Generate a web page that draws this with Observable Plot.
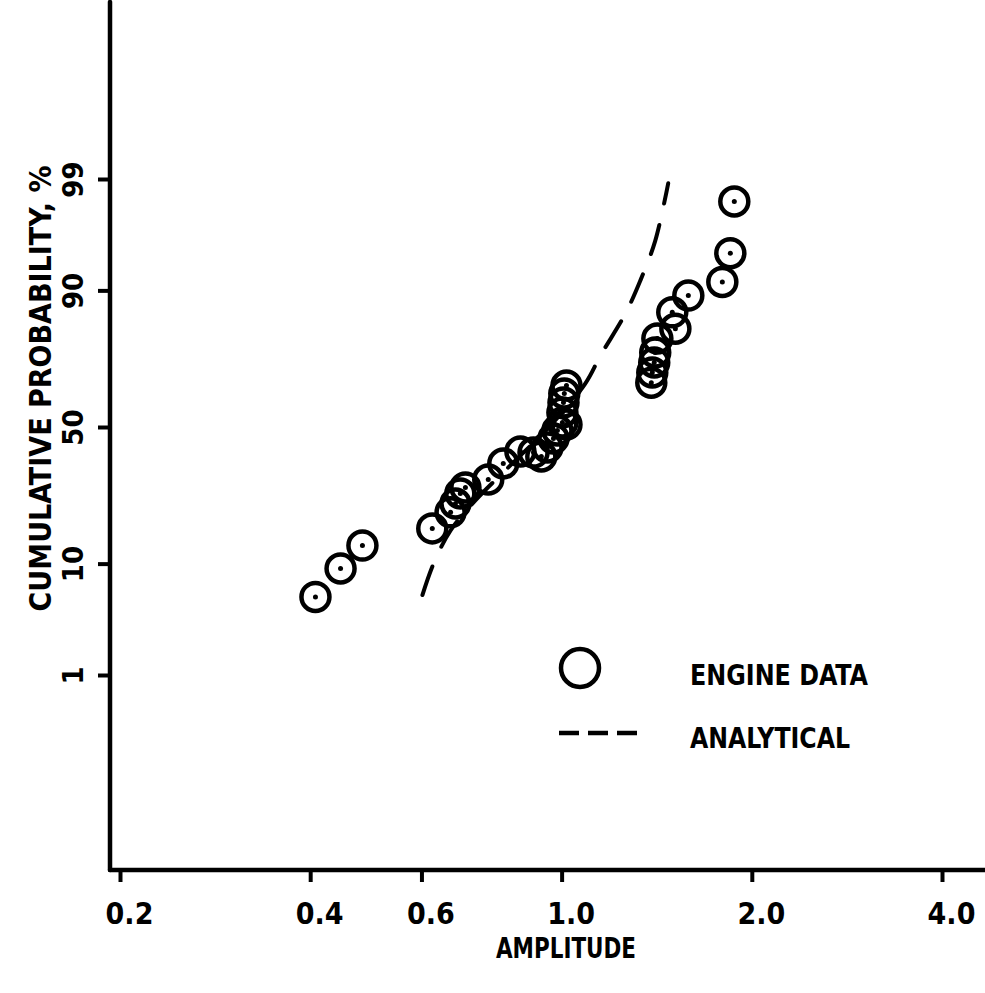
<!DOCTYPE html>
<html>
<head>
<meta charset="utf-8">
<script src="https://cdn.jsdelivr.net/npm/d3@7"></script>
<script src="https://cdn.jsdelivr.net/npm/@observablehq/plot@0.6"></script>
<style>
  html, body { margin: 0; padding: 0; background: #fff; }
  #chart svg { display: block; }
</style>
</head>
<body>
<div id="chart"></div>
<script>
// ---- data ----
const xTickValues = [0.2, 0.4, 0.6, 1.0, 2.0, 4.0];
const yTickValues = [1, 10, 50, 90, 99];

const engineAmplitude = [0.407, 0.446, 0.483, 0.623, 0.666, 0.678, 0.690, 0.703, 0.764, 0.807,
  0.859, 0.901, 0.927, 0.948, 0.969, 0.983, 1.001, 1.016, 1.001, 1.005, 1.008, 1.016,
  1.384, 1.389, 1.399, 1.404, 1.415, 1.511, 1.494, 1.584, 1.793, 1.846, 1.873];
const engineProbability = [5.6, 9.3, 13.4, 17.2, 21.3, 23.8, 26.8, 28.7, 31.3, 36.8,
  41.1, 40.7, 39.3, 42.6, 45.9, 48.9, 51.9, 51.1, 55.6, 59.3, 62.5, 65.3,
  66.3, 69.7, 72.9, 75.9, 79.8, 82.3, 86.0, 89.2, 91.4, 94.9, 98.3];

const analyticalAmplitude = [0.601, 0.626, 0.666, 0.729, 0.828, 0.958, 1.088, 1.150, 1.259, 1.330, 1.404, 1.472];
const analyticalProbability = [5.8, 10.1, 16.7, 24.7, 36.1, 50.7, 66.0, 75.0, 85.7, 91.6, 96.0, 98.9];

const legendLabels = ["ENGINE DATA", "ANALYTICAL"];
const xTitle = "AMPLITUDE";
const yTitle = "CUMULATIVE PROBABILITY, %";

// ---- probability (normal quantile) transform ----
function probit(p) {
  const a = [-3.969683028665376e+01, 2.209460984245205e+02, -2.759285104469687e+02, 1.383577518672690e+02, -3.066479806614716e+01, 2.506628277459239e+00];
  const b = [-5.447609879822406e+01, 1.615858368580409e+02, -1.556989798598866e+02, 6.680131188771972e+01, -1.328068155288572e+01];
  const c = [-7.784894002430293e-03, -3.223964580411365e-01, -2.400758277161838e+00, -2.549732539343734e+00, 4.374664141464968e+00, 2.938163982698783e+00];
  const d = [7.784695709041462e-03, 3.224671290700398e-01, 2.445134137142996e+00, 3.754408661907416e+00];
  const pl = 0.02425, ph = 1 - pl;
  let q, r;
  if (p < pl) {
    q = Math.sqrt(-2 * Math.log(p));
    return (((((c[0]*q+c[1])*q+c[2])*q+c[3])*q+c[4])*q+c[5]) / ((((d[0]*q+d[1])*q+d[2])*q+d[3])*q+1);
  }
  if (p > ph) {
    q = Math.sqrt(-2 * Math.log(1 - p));
    return -(((((c[0]*q+c[1])*q+c[2])*q+c[3])*q+c[4])*q+c[5]) / ((((d[0]*q+d[1])*q+d[2])*q+d[3])*q+1);
  }
  q = p - 0.5; r = q * q;
  return (((((a[0]*r+a[1])*r+a[2])*r+a[3])*r+a[4])*r+a[5])*q / (((((b[0]*r+b[1])*r+b[2])*r+b[3])*r+b[4])*r+1);
}
const z = (pct) => probit(pct / 100);

const engine = engineAmplitude.map((x, i) => ({x, p: engineProbability[i]}));
const analytical = analyticalAmplitude.map((x, i) => ({x, p: analyticalProbability[i]}));

const FONT = '"DejaVu Sans Condensed", "DejaVu Sans", sans-serif';
const W = 985, H = 993, ML = 110, MB = 123;

const chart = Plot.plot({
  width: W,
  height: H,
  marginLeft: ML,
  marginRight: 0,
  marginTop: 0,
  marginBottom: MB,
  style: {fontFamily: FONT, fontWeight: "bold", fontStretch: "condensed", color: "black", background: "white", overflow: "visible"},
  x: {type: "log", domain: [0.2, 4.0], range: [120, 942]},
  y: {type: "linear", domain: [z(1), z(99)], range: [675, 179]},
  marks: [
    // ticks only
    Plot.axisX(xTickValues, {tickSize: 12, tickFormat: () => "", strokeWidth: 4, label: null}),
    Plot.axisY(yTickValues.map(z), {tickSize: 12, tickFormat: () => "", strokeWidth: 4, label: null}),
    // tick labels
    Plot.text(xTickValues, {x: d => d, text: d => d.toFixed(1), frameAnchor: "bottom", lineAnchor: "top", textAnchor: "middle", dy: 32, dx: 9, fontSize: 30, fontWeight: "bold", fill: "black"}),
    Plot.text(yTickValues, {y: d => z(d), text: d => String(d), frameAnchor: "left", textAnchor: "middle", lineAnchor: "middle", dx: -37, rotate: -90, fontSize: 29, fontWeight: "bold", fill: "black"}),
    // axis titles
    Plot.text([xTitle], {frameAnchor: "bottom", textAnchor: "middle", lineAnchor: "bottom", dx: 18, dy: 87, fontSize: 29, fontWeight: "bold", fill: "black", text: d => d, className: "xtitle"}),
    Plot.text([yTitle], {frameAnchor: "left", textAnchor: "middle", lineAnchor: "middle", dx: -69, dy: -47, rotate: -90, fontSize: 30, fontWeight: "bold", fill: "black", text: d => d}),
    // analytical curve
    Plot.line(analytical, {x: "x", y: d => z(d.p), stroke: "black", strokeWidth: 4, strokeDasharray: "30,22", curve: "catmull-rom"}),
    // engine data
    Plot.dot(engine, {x: "x", y: d => z(d.p), r: 14, stroke: "black", strokeWidth: 4.5, fill: "none"}),
    Plot.dot(engine, {x: "x", y: d => z(d.p), r: 2.5, fill: "black", stroke: "none"})
  ]
});

document.getElementById("chart").appendChild(chart);

const svg = d3.select(chart);
// axis lines
svg.append("line").attr("x1", ML).attr("y1", 2).attr("x2", ML).attr("y2", H - MB)
  .attr("stroke", "black").attr("stroke-width", 4.5).attr("stroke-linecap", "round");
svg.append("line").attr("x1", ML).attr("y1", H - MB).attr("x2", W).attr("y2", H - MB)
  .attr("stroke", "black").attr("stroke-width", 4.5).attr("stroke-linecap", "round");

// legend
const lg = svg.append("g").attr("font-family", FONT).attr("font-weight", "bold").attr("font-size", 28)
  .attr("text-anchor", "start").attr("fill", "black");
lg.append("circle").attr("cx", 580).attr("cy", 668).attr("r", 19)
  .attr("fill", "none").attr("stroke", "black").attr("stroke-width", 4.5);
lg.append("line").attr("x1", 559).attr("x2", 645).attr("y1", 733).attr("y2", 733)
  .attr("stroke", "black").attr("stroke-width", 4.5).attr("stroke-dasharray", "20,9");
lg.append("text").attr("x", 690).attr("y", 685).text(legendLabels[0]).attr("textLength", 178).attr("lengthAdjust", "spacingAndGlyphs");
lg.append("text").attr("x", 690).attr("y", 748).text(legendLabels[1]).attr("textLength", 160).attr("lengthAdjust", "spacingAndGlyphs");

// fit x title to the reference width
svg.selectAll(".xtitle text").attr("textLength", 140).attr("lengthAdjust", "spacingAndGlyphs");
</script>
</body>
</html>
